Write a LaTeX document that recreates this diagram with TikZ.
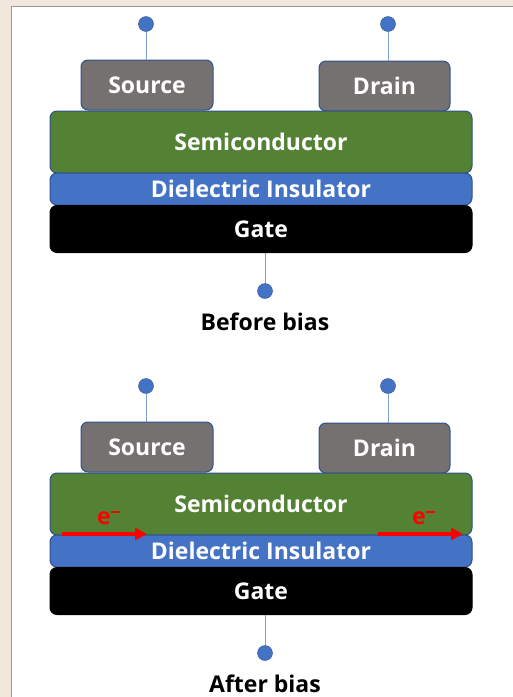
\documentclass[tikz,border=0pt]{standalone}
\usepackage{fontspec}
\setmainfont{Open Sans}
\usetikzlibrary{arrows.meta}
\definecolor{bgc}{HTML}{F1E7DD}
\definecolor{metal}{HTML}{767171}
\definecolor{semi}{HTML}{548235}
\definecolor{diel}{HTML}{4472C4}
\definecolor{edge}{HTML}{2F528F}
\definecolor{wire}{HTML}{7F9FCF}
\definecolor{redx}{HTML}{FF0000}
\begin{document}
\begin{tikzpicture}[x=1pt,y=-1pt,
  layer/.style={draw=edge,line width=1pt,rounded corners=7pt,text=white,font=\bfseries\fontsize{23}{24}\selectfont,inner sep=0pt},
  term/.style={circle,fill=diel,draw=edge,line width=0.4pt,minimum size=15pt,inner sep=0pt},
  wireln/.style={draw=wire,line width=1pt},
  captxt/.style={font=\bfseries\fontsize{23}{24}\selectfont,text=black},
  elec/.style={draw=redx,line width=3.5pt,-{Triangle[length=12pt,width=12pt]}},
  elabel/.style={text=redx,font=\bfseries\fontsize{23}{24}\selectfont}]
\useasboundingbox (0,0) rectangle (513,697);
\fill[bgc] (0,0) rectangle (513,697);
\fill[white] (11,6) rectangle (513,697);
\draw[gray!80,line width=1pt] (11,697) -- (11,6) -- (513,6);
\foreach \oy/\ctext/\nm in {0/Before bias/a,362/After bias/b}{
  \begin{scope}[yshift=-\oy pt]
  \node[term] (sd\nm) at (146,24) {};
  \node[term] (dd\nm) at (388,24) {};
  \node[layer,fill=metal,minimum width=132pt,minimum height=50pt] (src\nm) at (147,85) {Source};
  \node[layer,fill=metal,minimum width=131pt,minimum height=50pt] (drn\nm) at (384.5,86) {Drain};
  \node[layer,fill=semi,minimum width=422pt,minimum height=62pt] (sem\nm) at (261,142) {Semiconductor};
  \node[layer,fill=diel,minimum width=422pt,minimum height=32pt] (die\nm) at (261,189) {Dielectric Insulator};
  \node[layer,fill=black,draw=black,minimum width=422pt,minimum height=47pt] (gat\nm) at (261,229) {Gate};
  \node[term] (gd\nm) at (265,291) {};
  \node[captxt] (cap\nm) at (265,322) {\ctext};
  \draw[wireln] (sd\nm) -- (src\nm.north -| sd\nm);
  \draw[wireln] (dd\nm) -- (drn\nm.north -| dd\nm);
  \draw[wireln] (gat\nm.south -| gd\nm) -- (gd\nm);
  \end{scope}
}
\coordinate (l1) at (62,534);
\coordinate (l2) at (147,534);
\coordinate (r1) at (378,534);
\coordinate (r2) at (463,534);
\draw[elec] (l1) -- (l2);
\draw[elec] (r1) -- (r2);
\node[elabel] (e1) at (104,518) {e\rlap{\raisebox{12pt}{\rule{9pt}{1.6pt}}}};
\node[elabel] (e2) at (419,518) {e\rlap{\raisebox{12pt}{\rule{9pt}{1.6pt}}}};
\end{tikzpicture}
\end{document}
